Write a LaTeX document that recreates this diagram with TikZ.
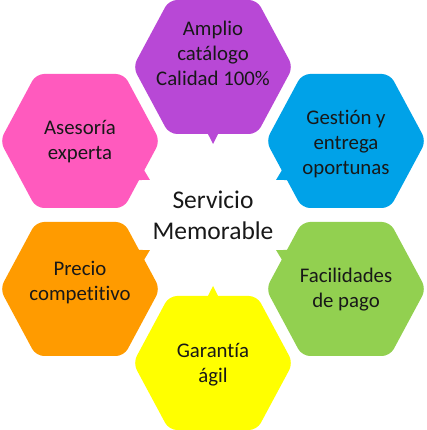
\documentclass[tikz,border=0pt]{standalone}
\usepackage{fontspec}
\setmainfont{Carlito}[Ligatures=NoCommon]
\usepackage{tikz}
\usetikzlibrary{calc}
\definecolor{morado}{RGB}{184,72,214}
\definecolor{azul}{RGB}{0,162,232}
\definecolor{verde}{RGB}{146,208,80}
\definecolor{amarillo}{RGB}{255,255,0}
\definecolor{naranja}{RGB}{255,155,0}
\definecolor{rosa}{RGB}{255,90,190}
\definecolor{tinta}{RGB}{24,24,24}

\begin{document}
\begin{tikzpicture}[x=1pt, y=1pt,
    hexfill/.style={rounded corners=8pt},
    hextext/.style={align=center, text=tinta, font=\fontsize{20.8}{25}\selectfont}]
            \useasboundingbox (0,0) rectangle (426,430);

            % Centre
            \node[align=center, text=tinta, font=\fontsize{25.5}{31}\selectfont] (centro) at (213,215) {Servicio\\Memorable};

            % Hexagon centres
            \coordinate (hamp) at (213,363);
            \coordinate (hges) at (346,289);
            \coordinate (hfac) at (346,141);
            \coordinate (hgar) at (213,67);
            \coordinate (hpre) at (80,141);
            \coordinate (hase) at (80,289);

            % Amplio catalogo
            \fill[morado, hexfill, shift={(hamp)}] (-80,0) -- (-44,67) -- (44,67) -- (80,0) -- (44,-67) -- (-44,-67) -- cycle;
            \fill[morado] ($(hamp)!64pt!6:(centro)$) -- ($(hamp)!77pt!(centro)$) -- ($(hamp)!64pt!-6:(centro)$) -- cycle;
            \node[hextext] (amplio) at (213,377) {Amplio\\catálogo\\Calidad 100\%};

            % Gestion y entrega
            \fill[azul, hexfill, shift={(hges)}] (-80,0) -- (-44,67) -- (44,67) -- (80,0) -- (44,-67) -- (-44,-67) -- cycle;
            \fill[azul] ($(hges)!68pt!6:(centro)$) -- ($(hges)!80pt!(centro)$) -- ($(hges)!68pt!-6:(centro)$) -- cycle;
            \node[hextext] (gestion) at (346,286) {Gestión y\\entrega\\oportunas};

            % Facilidades de pago
            \fill[verde, hexfill, shift={(hfac)}] (-80,0) -- (-44,67) -- (44,67) -- (80,0) -- (44,-67) -- (-44,-67) -- cycle;
            \fill[verde] ($(hfac)!68pt!6:(centro)$) -- ($(hfac)!80pt!(centro)$) -- ($(hfac)!68pt!-6:(centro)$) -- cycle;
            \node[hextext] (facilidades) at (346,140) {Facilidades\\de pago};

            % Garantia agil
            \fill[amarillo, hexfill, shift={(hgar)}] (-80,0) -- (-44,67) -- (44,67) -- (80,0) -- (44,-67) -- (-44,-67) -- cycle;
            \fill[amarillo] ($(hgar)!64pt!6:(centro)$) -- ($(hgar)!77pt!(centro)$) -- ($(hgar)!64pt!-6:(centro)$) -- cycle;
            \node[hextext] (garantia) at (213,65) {Garantía\\ágil};

            % Precio competitivo
            \fill[naranja, hexfill, shift={(hpre)}] (-80,0) -- (-44,67) -- (44,67) -- (80,0) -- (44,-67) -- (-44,-67) -- cycle;
            \fill[naranja] ($(hpre)!68pt!6:(centro)$) -- ($(hpre)!80pt!(centro)$) -- ($(hpre)!68pt!-6:(centro)$) -- cycle;
            \node[hextext] (precio) at (80,147) {Precio\\competitivo};

            % Asesoria experta
            \fill[rosa, hexfill, shift={(hase)}] (-80,0) -- (-44,67) -- (44,67) -- (80,0) -- (44,-67) -- (-44,-67) -- cycle;
            \fill[rosa] ($(hase)!68pt!6:(centro)$) -- ($(hase)!80pt!(centro)$) -- ($(hase)!68pt!-6:(centro)$) -- cycle;
            \node[hextext] (asesoria) at (80,288) {Asesoría\\experta};
        \end{tikzpicture}
\end{document}
